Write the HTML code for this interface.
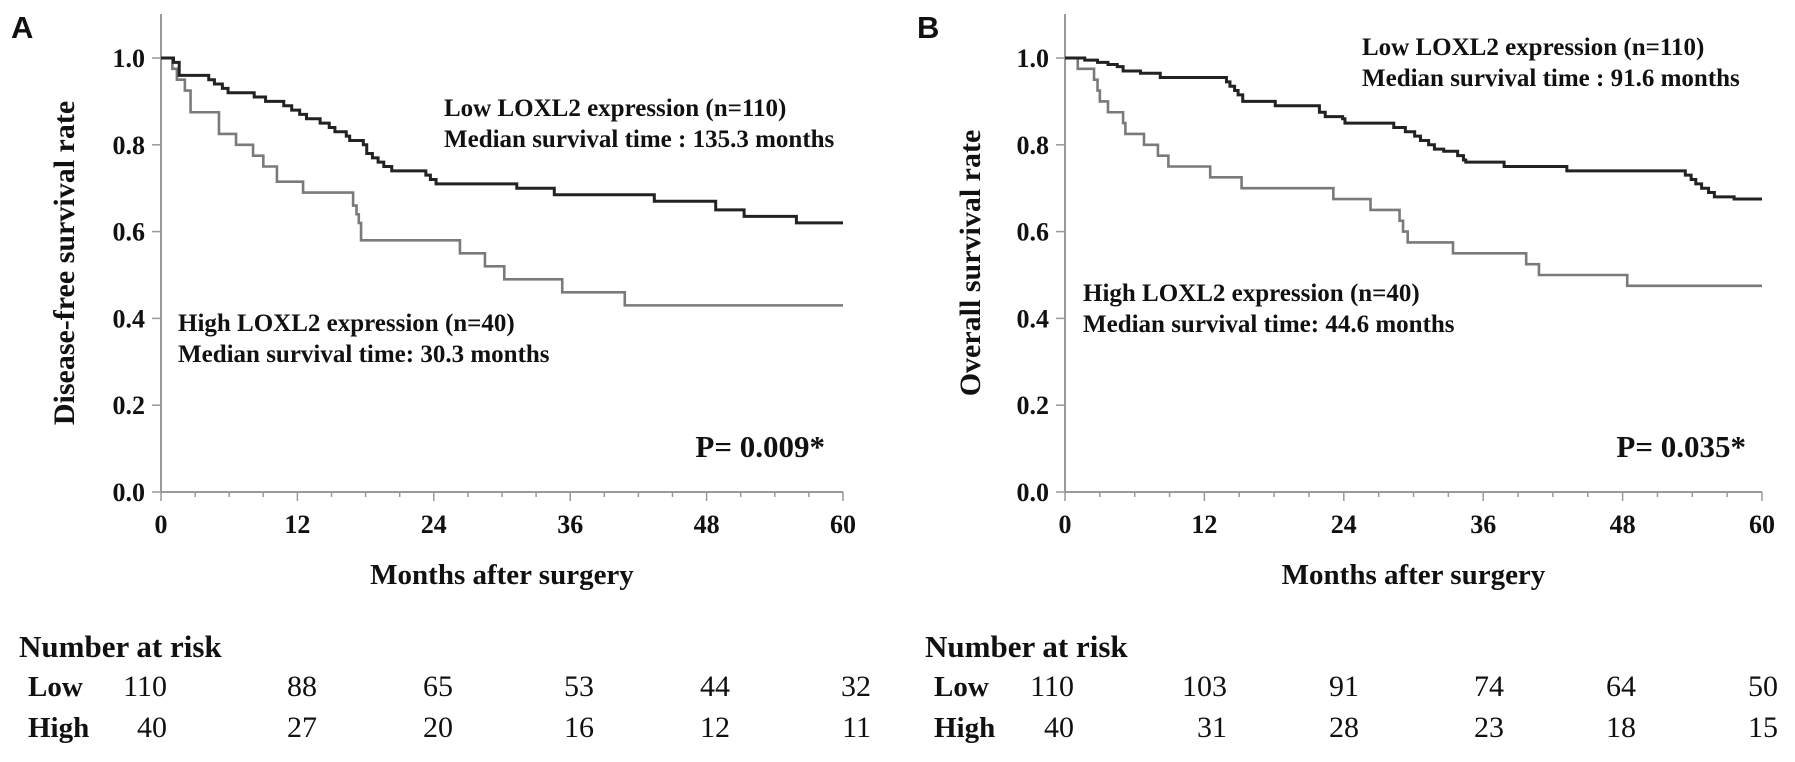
<!DOCTYPE html>
<html><head><meta charset="utf-8"><style>
body{margin:0;background:#fff;width:1795px;height:757px;overflow:hidden}
svg text{font-family:"Liberation Serif",serif;font-weight:bold;fill:#111}
</style></head><body>
<svg id="chart" width="1795" height="757" xmlns="http://www.w3.org/2000/svg"></svg>
<script>
const xTicks=[0,12,24,36,48,60];
const yTicks=[0.0,0.2,0.4,0.6,0.8,1.0];
const aLowT=[0,1.1,1.6,4.2,4.7,5.4,5.9,8.2,9.2,10.8,11.5,12.2,12.8,14.0,14.8,15.3,16.3,16.6,17.8,18.1,18.6,19.1,19.6,20.3,23.3,23.7,24.2,31.3,34.6,43.4,48.8,51.3,55.9];
const aLowS=[1,0.99,0.96,0.95,0.94,0.93,0.92,0.91,0.90,0.89,0.88,0.87,0.86,0.85,0.84,0.83,0.82,0.81,0.80,0.78,0.77,0.76,0.75,0.74,0.73,0.72,0.71,0.70,0.685,0.67,0.65,0.635,0.62];
const aHighT=[0,1,1.4,2.1,2.6,5.1,6.6,8.1,9,10.2,12.5,16.9,17.2,17.4,17.6,26.3,28.5,30.2,35.3,40.8];
const aHighS=[1,0.975,0.95,0.925,0.875,0.825,0.80,0.775,0.75,0.715,0.69,0.66,0.64,0.62,0.58,0.55,0.52,0.49,0.46,0.43];
const bLowT=[0,1.7,2.8,3.7,4.5,5,6.5,8.2,13.9,14.2,14.6,14.9,15.3,18.1,21.9,22.4,23.9,24.1,28.3,29.3,30.1,30.6,31.3,31.8,32.6,33.8,34.3,34.5,37.8,43.2,53.4,53.9,54.3,54.8,55.4,55.9,57.6];
const bLowS=[1,0.995,0.99,0.985,0.98,0.97,0.965,0.955,0.945,0.935,0.925,0.915,0.90,0.89,0.875,0.865,0.86,0.85,0.84,0.83,0.82,0.81,0.80,0.79,0.785,0.775,0.765,0.76,0.75,0.74,0.73,0.72,0.71,0.70,0.69,0.68,0.675];
const bHighT=[0,1.1,1.3,2.5,2.8,3,3.7,5,5.2,6.8,8,8.9,12.5,15.2,23.1,26.3,28.8,29.1,29.5,33.4,39.7,40.8,48.4];
const bHighS=[1,0.975,0.975,0.95,0.925,0.90,0.875,0.85,0.825,0.80,0.775,0.75,0.725,0.70,0.675,0.65,0.625,0.60,0.575,0.55,0.525,0.50,0.475];
const riskA=[[110,88,65,53,44,32],[40,27,20,16,12,11]];
const riskB=[[110,103,91,74,64,50],[40,31,28,23,18,15]];
const svg=document.getElementById('chart');
const NS='http://www.w3.org/2000/svg';
function mk(tag,attrs,txt){const e=document.createElementNS(NS,tag);for(const k in attrs)e.setAttribute(k,attrs[k]);if(txt!==undefined)e.textContent=txt;svg.appendChild(e);return e;}
function panel(p){
 const x=m=>p.x0+m*(p.x1-p.x0)/60, y=v=>492-v*434;
 let e=mk('line',{x1:p.x0,y1:14,x2:p.x0,y2:492,stroke:'#999','stroke-width':2});
 
 
 e=mk('line',{x1:p.x0,y1:492,x2:p.x1,y2:492,stroke:'#999','stroke-width':2});
 
 
 for(let i=0;i<=60;i+=3){const big=i%12==0;mk('line',{x1:x(i),y1:492,x2:x(i),y2:492+(big?9:5),stroke:'#999','stroke-width':1.5});}
 yTicks.forEach(v=>{mk('line',{x1:p.x0-9,y1:y(v),x2:p.x0,y2:y(v),stroke:'#999','stroke-width':1.5});
  e=mk('text',{x:p.x0-16,y:y(v)+9,'font-size':26,'text-anchor':'end'},v.toFixed(1));
  
  });
 xTicks.forEach(v=>{e=mk('text',{x:x(v),y:533,'font-size':26,'text-anchor':'middle'},v);
  
  });
 function curve(T,S,col,w,name){let d='M'+x(T[0])+','+y(S[0]);for(let i=1;i<T.length;i++){d+='H'+x(T[i])+'V'+y(S[i]);}d+='H'+x(60);
  const c=mk('path',{d:d,fill:'none',stroke:col,'stroke-width':w});
  
  }
 curve(p.hT,p.hS,'#7a7a7a',2.6,p.id+'-high-curve');
 curve(p.lT,p.lS,'#222',3,p.id+'-low-curve');
 e=mk('text',{x:p.lx,y:p.ly,'font-size':25},'Low LOXL2 expression (n=110)');
 
 e=mk('text',{x:p.lx,y:p.ly+31,'font-size':25},p.lmed);
 
 e=mk('text',{x:p.hx,y:p.hy,'font-size':25},'High LOXL2 expression  (n=40)');
 
 e=mk('text',{x:p.hx,y:p.hy+31,'font-size':25},p.hmed);
 
 e=mk('text',{x:p.pr,y:457,'font-size':31,'text-anchor':'end'},p.pv);
 
 e=mk('text',{x:(p.x0+p.x1)/2,y:584,'font-size':29,'text-anchor':'middle'},'Months after surgery');
 
 e=mk('text',{x:0,y:0,'font-size':30,'text-anchor':'middle',transform:'translate('+(p.yx)+',263) rotate(-90)'},p.yt);
 
 e=mk('text',{x:p.letx,y:38,'font-size':31,style:'font-family:"Liberation Sans",sans-serif'},p.letter);
 
 e=mk('text',{x:p.nx,y:657,'font-size':31},'Number at risk');
 
 ['Low','High'].forEach((r,ri)=>{const yy=696+ri*41;
  e=mk('text',{x:p.nx+9,y:yy,'font-size':29},r);
  
  p.risk[ri].forEach((v,i)=>{
   e=mk('text',{x:p.rx[i],y:yy,'font-size':30,'text-anchor':'end',style:'font-weight:normal'},v);
   });
 });
}
panel({id:'a',letter:'A',letx:11,x0:161,x1:843,lT:aLowT,lS:aLowS,hT:aHighT,hS:aHighS,lx:444,ly:116,lmed:'Median survival time : 135.3 months',hx:178,hy:331,hmed:'Median survival time: 30.3 months',pv:'P= 0.009*',pr:825,yt:'Disease-free survival rate',yx:74,nx:19,rx:[167,317,453,594,730,871],risk:riskA});
panel({id:'b',letter:'B',letx:917,x0:1065,x1:1762,lT:bLowT,lS:bLowS,hT:bHighT,hS:bHighS,lx:1362,ly:55,lmed:'Median survival time : 91.6 months',hx:1083,hy:301,hmed:'Median survival time: 44.6 months',pv:'P= 0.035*',pr:1746,yt:'Overall survival rate',yx:980,nx:925,rx:[1074,1227,1359,1504,1636,1778],risk:riskB});
</script>
</body></html>
